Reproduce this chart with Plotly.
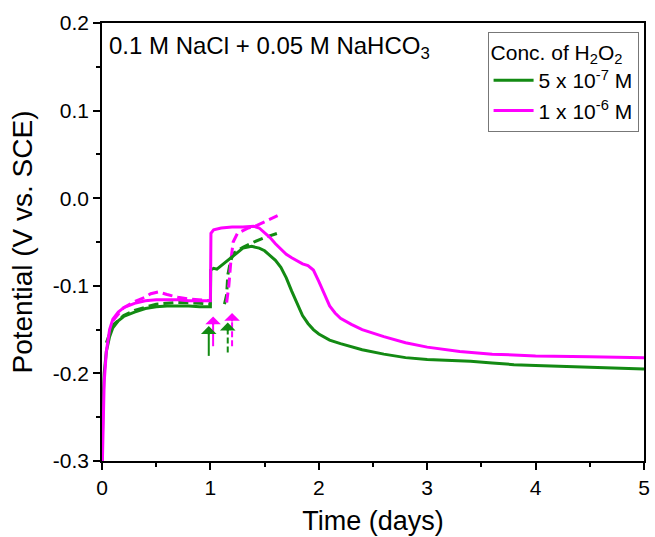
import plotly.graph_objects as go

# ---- data ----
t_green = [0, 0.005, 0.01, 0.02, 0.04, 0.07, 0.1, 0.15, 0.2, 0.3, 0.4, 0.5, 0.6, 0.7, 0.8, 0.9, 1.0,
           1.003, 1.03, 1.06, 1.1, 1.15, 1.2, 1.25, 1.3, 1.38, 1.45, 1.5, 1.55, 1.6, 1.65, 1.7,
           1.75, 1.8, 1.85, 1.9, 1.95, 2.0, 2.05, 2.1, 2.2, 2.4, 2.6, 2.8, 3.0, 3.2, 3.4, 3.6,
           3.8, 4.0, 4.5, 5.0]
v_green = [-0.30, -0.26, -0.23, -0.20, -0.175, -0.158, -0.148, -0.140, -0.135, -0.130, -0.126, -0.124,
           -0.123, -0.123, -0.123, -0.124, -0.124,
           -0.082, -0.080, -0.081, -0.077, -0.072, -0.066, -0.061, -0.057, -0.055, -0.057, -0.060,
           -0.065, -0.071, -0.079, -0.091, -0.106, -0.121, -0.134, -0.143, -0.150, -0.155, -0.159,
           -0.162, -0.166, -0.173, -0.178, -0.182, -0.184, -0.185, -0.186, -0.188, -0.190, -0.191,
           -0.193, -0.195]

t_mag = [0, 0.01, 0.02, 0.04, 0.07, 0.1, 0.15, 0.2, 0.3, 0.4, 0.5, 0.6, 0.7, 0.8, 0.9, 1.0,
         1.005, 1.03, 1.1, 1.2, 1.3, 1.4, 1.45, 1.5, 1.55, 1.6, 1.65, 1.7, 1.75, 1.8, 1.85,
         1.9, 1.95, 2.0, 2.05, 2.1, 2.15, 2.2, 2.3, 2.4, 2.6, 2.8, 3.0, 3.3, 3.6, 4.0, 4.5, 5.0]
v_mag = [-0.32, -0.26, -0.21, -0.175, -0.150, -0.138, -0.130, -0.125, -0.120, -0.117, -0.116, -0.116,
         -0.116, -0.117, -0.117, -0.117,
         -0.040, -0.036, -0.034, -0.033, -0.033, -0.032, -0.034, -0.039, -0.045, -0.052, -0.058,
         -0.064, -0.068, -0.072, -0.075, -0.077, -0.082, -0.095, -0.110, -0.123, -0.131, -0.137,
         -0.144, -0.150, -0.158, -0.165, -0.170, -0.175, -0.178, -0.180, -0.181, -0.182]

t_green_dash = [0.04, 0.07, 0.1, 0.2, 0.3, 0.5, 0.7, 0.9, 1.0, None,
                1.13, 1.15, 1.16, 1.18, 1.21, 1.3, 1.4, 1.5, 1.62]
v_green_dash = [-0.165, -0.155, -0.145, -0.134, -0.128, -0.121, -0.119, -0.120, -0.121, None,
                -0.121, -0.110, -0.088, -0.075, -0.063, -0.056, -0.050, -0.045, -0.040]

t_mag_dash = [0.1, 0.2, 0.3, 0.4, 0.45, 0.52, 0.6, 0.7, 0.8, 0.9, 1.0, None,
              1.15, 1.17, 1.19, 1.21, 1.25, 1.35, 1.43, 1.5, 1.62]
v_mag_dash = [-0.140, -0.125, -0.118, -0.113, -0.109, -0.107, -0.110, -0.113, -0.115, -0.116, -0.117, None,
              -0.119, -0.100, -0.070, -0.050, -0.040, -0.034, -0.031, -0.027, -0.020]

# arrows marking H2O2 additions: x, tail y, tip y
arrow_x = [0.985, 1.025, 1.16, 1.20]
arrow_tail = [-0.180, -0.169, -0.176, -0.169]
arrow_tip = [-0.146, -0.135, -0.142, -0.131]
arrow_color = ["#138a13", "#ff00ff", "#138a13", "#ff00ff"]
arrow_dash = ["solid", "solid", "dash", "dash"]

# tick labels
x_ticks = [0, 1, 2, 3, 4, 5]
x_ticktext = ["0", "1", "2", "3", "4", "5"]
y_ticks = [-0.3, -0.2, -0.1, 0.0, 0.1, 0.2]
y_ticktext = ["-0.3", "-0.2", "-0.1", "0.0", "0.1", "0.2"]

GREEN = "#138a13"
MAGENTA = "#ff00ff"
FONT = "Liberation Sans, Arial, sans-serif"
DASH = "10px,5px"

fig = go.Figure()

fig.add_trace(go.Scatter(x=t_green_dash, y=v_green_dash, mode="lines",
                         line=dict(color=GREEN, width=3, dash=DASH), showlegend=False,
                         connectgaps=False, hoverinfo="skip"))
fig.add_trace(go.Scatter(x=t_mag_dash, y=v_mag_dash, mode="lines",
                         line=dict(color=MAGENTA, width=3, dash=DASH), showlegend=False,
                         connectgaps=False, hoverinfo="skip"))
fig.add_trace(go.Scatter(x=t_green, y=v_green, mode="lines", name="5 x 10<sup>-7</sup> M",
                         line=dict(color=GREEN, width=3)))
fig.add_trace(go.Scatter(x=t_mag, y=v_mag, mode="lines", name="1 x 10<sup>-6</sup> M",
                         line=dict(color=MAGENTA, width=3)))

for x, y0, y1, c, d in zip(arrow_x, arrow_tail, arrow_tip, arrow_color, arrow_dash):
    fig.add_trace(go.Scatter(x=[x, x], y=[y0, y1 - 0.006], mode="lines",
                             line=dict(color=c, width=2, dash="6px,3px" if d == "dash" else "solid"),
                             showlegend=False, hoverinfo="skip"))
    fig.add_annotation(x=x, y=y1, ax=0, ay=10, xref="x", yref="y", text="",
                       showarrow=True, arrowhead=1, arrowsize=1.3, arrowwidth=2, arrowcolor=c)

fig.add_annotation(x=0, y=0.2, xref="x", yref="y", xanchor="left", yanchor="top",
                   xshift=5, yshift=-7,
                   text="0.1 M NaCl + 0.05 M NaHCO<sub>3</sub>", showarrow=False,
                   font=dict(family=FONT, size=24, color="black"))

fig.update_layout(
    width=655, height=537,
    margin=dict(l=102, r=11, t=23, b=76),
    plot_bgcolor="white", paper_bgcolor="white",
    font=dict(family=FONT, color="black"),
    legend=dict(x=0.99, y=0.98, xanchor="right", yanchor="top",
                bgcolor="white", bordercolor="#777777", borderwidth=1,
                font=dict(family=FONT, size=21, color="black"),
                title=dict(text="Conc. of H<sub>2</sub>O<sub>2</sub>",
                           font=dict(family=FONT, size=21, color="black")),
                tracegroupgap=0, itemwidth=40),
    xaxis=dict(range=[0, 5], tickvals=x_ticks, ticktext=x_ticktext, showgrid=False, zeroline=False,
               automargin=False,
               showline=True, linecolor="black", linewidth=1.5, mirror=True,
               ticks="outside", ticklen=7, tickwidth=1.5, tickcolor="black",
               minor=dict(dtick=0.5, ticks="outside", ticklen=4, tickwidth=1.5, tickcolor="black"),
               tickfont=dict(family=FONT, size=21),
               title=dict(text="Time (days)", font=dict(family=FONT, size=27), standoff=13)),
    yaxis=dict(range=[-0.3, 0.2], tickvals=y_ticks, ticktext=y_ticktext, showgrid=False, zeroline=False,
               automargin=False,
               showline=True, linecolor="black", linewidth=1.5, mirror=True,
               ticks="outside", ticklen=7, tickwidth=1.5, tickcolor="black",
               minor=dict(dtick=0.05, ticks="outside", ticklen=4, tickwidth=1.5, tickcolor="black"),
               tickfont=dict(family=FONT, size=21),
               title=dict(text="Potential (V vs. SCE)", font=dict(family=FONT, size=28), standoff=12)),
)

fig.write_html("out.html", post_script="document.body.style.margin='0px';",
               config={"displayModeBar": False})
